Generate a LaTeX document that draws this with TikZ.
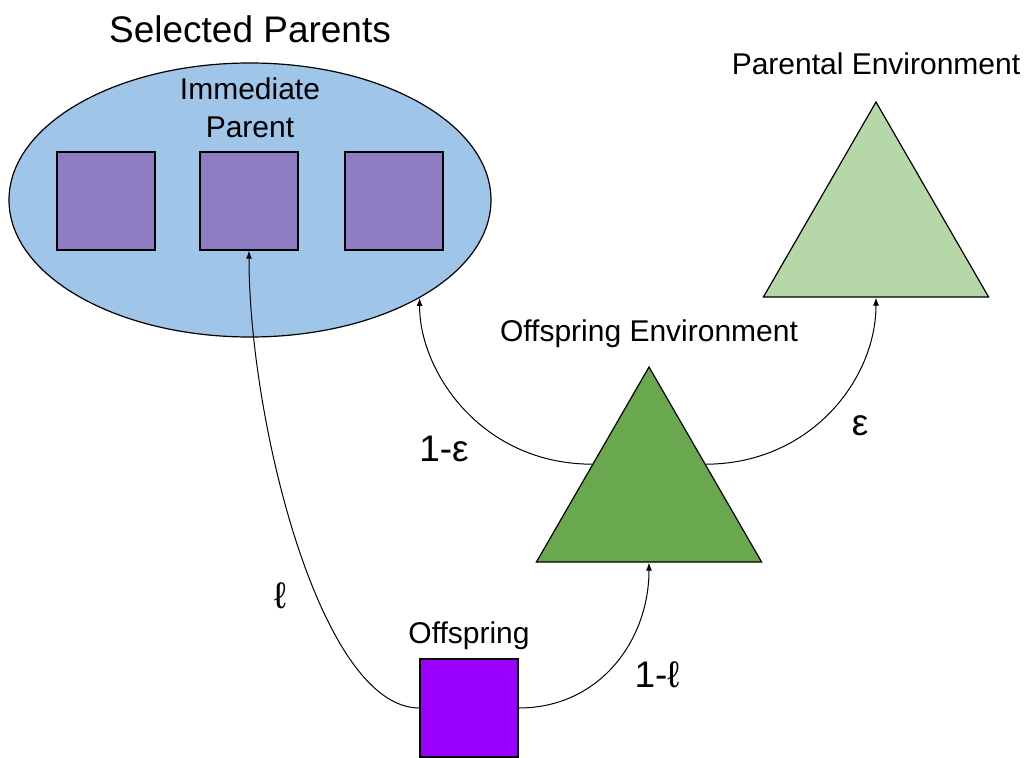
\documentclass[tikz,border=0pt]{standalone}
\usepackage{fontspec}
\setmainfont{Liberation Sans}
\usetikzlibrary{shapes.geometric,arrows.meta}
\definecolor{poolblue}{HTML}{9FC5E8}
\definecolor{parentviolet}{HTML}{8E7CC3}
\definecolor{childpurple}{HTML}{9900FF}
\definecolor{envlight}{HTML}{B6D7A8}
\definecolor{envdark}{HTML}{6AA84F}
\newcommand{\bigtxt}{\fontsize{37}{44}\selectfont}
\newcommand{\midtxt}{\fontsize{30}{38}\selectfont}
\tikzset{
  indiv/.style={draw, line width=1.2pt, inner sep=0pt, minimum size=98pt},
  env/.style={draw, line width=1.2pt, regular polygon, regular polygon sides=3, inner sep=0pt, minimum size=260pt},
  link/.style={draw, line width=1pt, ->}
}
\begin{document}
\begin{tikzpicture}[x=1pt,y=-1pt,>={Latex[length=8pt,width=6pt]}]
\useasboundingbox (0,0) rectangle (1027,757);
\fill[white] (0,0) rectangle (1027,757);

\node[draw, line width=1.2pt, ellipse, fill=poolblue, inner sep=0pt, minimum width=482pt, minimum height=274pt] (sel) at (250,200) {};
\node[indiv, fill=parentviolet] (p1) at (106,201) {};
\node[indiv, fill=parentviolet] (p2) at (249,201) {};
\node[indiv, fill=parentviolet] (p3) at (394,201) {};

\node[env, fill=envlight] (penv) at (876,232) {};
\node[env, fill=envdark] (oenv) at (649,497) {};
\node[indiv, fill=childpurple] (off) at (469,708) {};

\node[anchor=base] (tsel) at (250,43) {\bigtxt Selected Parents};
\node[anchor=base, align=center, font=\midtxt] (timm) at (250,138) {Immediate\\Parent};
\node[anchor=base] (tpenv) at (876,75) {\midtxt Parental Environment};
\node[anchor=base] (toenv) at (649,341) {\midtxt Offspring Environment};
\node[anchor=base] (toff) at (469,643) {\midtxt Offspring};

\path[link] (off.west) .. controls (320,708) and (249,420) .. (p2.south);
\path[link] (off.east) .. controls (600,708) and (649,640) .. (oenv.side 2);
\path[link] (oenv.side 1) .. controls (480,464) and (419,370) .. (sel.-30);
\path[link] (oenv.side 3) .. controls (810,464) and (876,380) .. (penv.side 2);

\node[anchor=base] (lell) at (280,608) {\bigtxt ℓ};
\node[anchor=base] (loneell) at (657,687) {\bigtxt 1-ℓ};
\node[anchor=base] (loneeps) at (444,461) {\bigtxt 1-ε};
\node[anchor=base] (leps) at (860,435) {\bigtxt ε};
\end{tikzpicture}
\end{document}
